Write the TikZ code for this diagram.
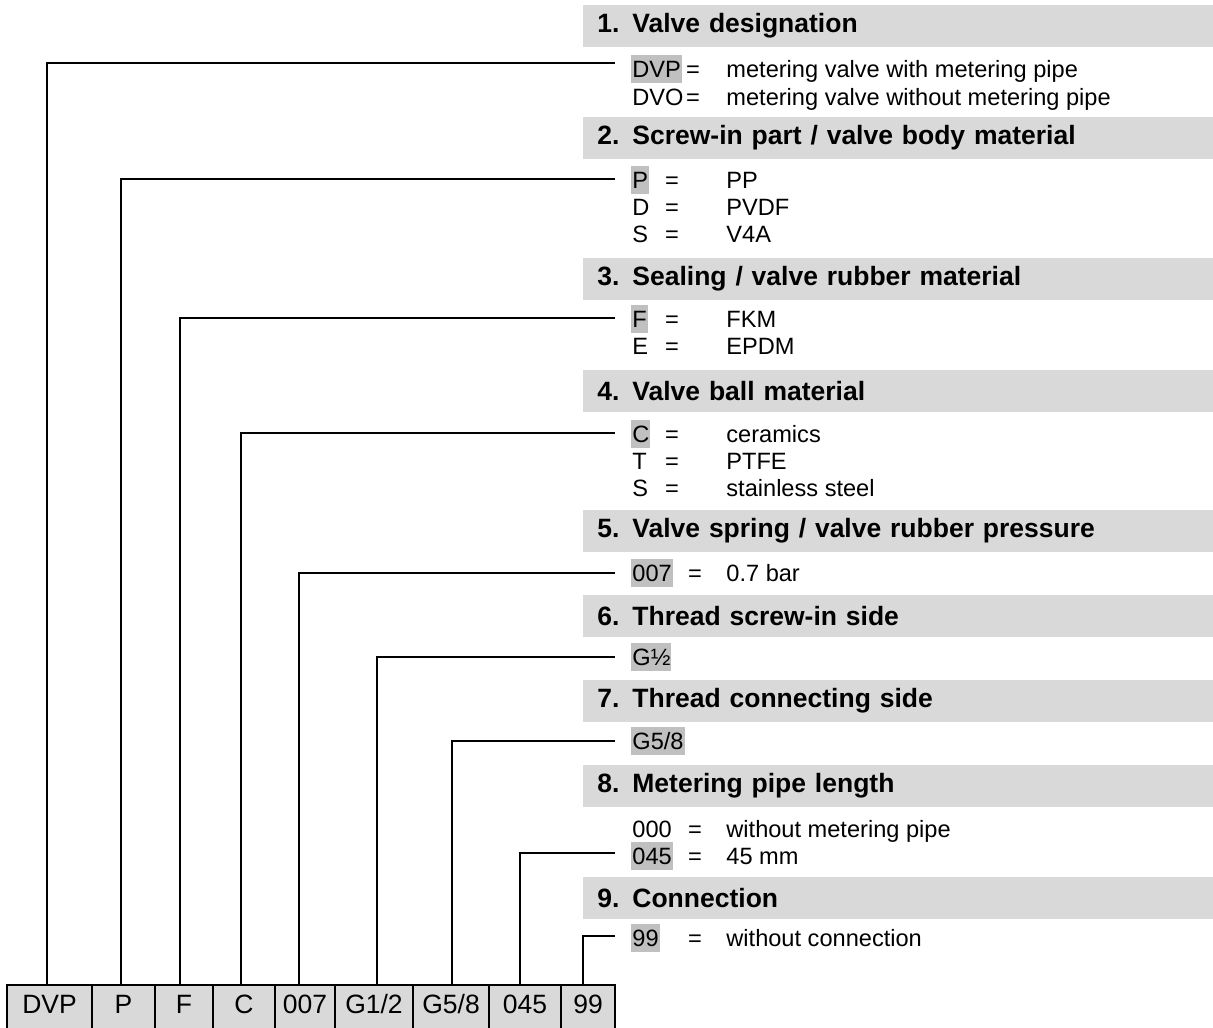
\documentclass[tikz,border=0pt]{standalone}
\usepackage{fontspec}
\setmainfont{Liberation Sans}
\usetikzlibrary{positioning}

\definecolor{bargrey}{HTML}{D9D9D9}
\definecolor{pickgrey}{HTML}{C0C0C0}

\newcommand{\headno}[1]{\makebox[17.5pt][l]{#1}}

\tikzset{
  head/.style={fill=bargrey, anchor=west, inner xsep=7pt, inner ysep=0pt,
    minimum height=21pt, text width=320pt, align=left,
    font=\fontsize{13.25}{15}\selectfont\bfseries},
  code/.style={anchor=west, inner xsep=0.5pt, inner ysep=3pt,
    text height=8.4pt, text depth=0pt, font=\fontsize{11.8}{13}\selectfont},
  picked/.style={code, fill=pickgrey},
  eq/.style={code, anchor=center},
  cell/.style={draw, line width=1pt, fill=bargrey, inner sep=0pt, outer sep=0pt,
    minimum height=22pt, text height=9.5pt, text depth=2.8pt,
    font=\fontsize{13.25}{15}\selectfont},
  lead/.style={line width=0.7pt, shorten >=8pt}
}

\begin{document}
\begin{tikzpicture}[x=0.5pt, y=-0.5pt]
\useasboundingbox (0,0) rectangle (1213,1027);
\clip (0,0) rectangle (1213,1027);

%section bars
\node[head] (h1) at (583,26)  {\headno{1.}Valve designation};
\node[head] (h2) at (583,138) {\headno{2.}Screw-in part / valve body material};
\node[head] (h3) at (583,279) {\headno{3.}Sealing / valve rubber material};
\node[head] (h4) at (583,391) {\headno{4.}Valve ball material};
\node[head] (h5) at (583,531) {\headno{5.}Valve spring / valve rubber pressure};
\node[head] (h6) at (583,616) {\headno{6.}Thread screw-in side};
\node[head] (h7) at (583,701) {\headno{7.}Thread connecting side};
\node[head] (h8) at (583,786) {\headno{8.}Metering pipe length};
\node[head] (h9) at (583,898) {\headno{9.}Connection};

%1 valve designation
\node[picked] (cDVP) at (631,69) {DVP};
\node[eq] at (693,69) {=};
\node[code] at (725,69) {metering valve with metering pipe};
\node[code] (cDVO) at (631,97) {DVO};
\node[eq] at (693,97) {=};
\node[code] at (725,97) {metering valve without metering pipe};

%2 body material
\node[picked] (cP) at (631,180) {P};
\node[eq] at (672,180) {=};
\node[code] at (725,180) {PP};
\node[code] (cD) at (631,207) {D};
\node[eq] at (672,207) {=};
\node[code] at (725,207) {PVDF};
\node[code] (cS) at (631,234) {S};
\node[eq] at (672,234) {=};
\node[code] at (725,234) {V4A};

%3 rubber material
\node[picked] (cF) at (631,319) {F};
\node[eq] at (672,319) {=};
\node[code] at (725,319) {FKM};
\node[code] (cE) at (631,346) {E};
\node[eq] at (672,346) {=};
\node[code] at (725,346) {EPDM};

%4 ball material
\node[picked] (cC) at (631,434) {C};
\node[eq] at (672,434) {=};
\node[code] at (725,434) {ceramics};
\node[code] (cT) at (631,461) {T};
\node[eq] at (672,461) {=};
\node[code] at (725,461) {PTFE};
\node[code] (cSS) at (631,488) {S};
\node[eq] at (672,488) {=};
\node[code] at (725,488) {stainless steel};

%5 pressure
\node[picked] (c007) at (631,573) {007};
\node[eq] at (695,573) {=};
\node[code] at (725,573) {0.7 bar};

%6 and 7 threads
\node[picked] (cGa) at (631,657) {G½};
\node[picked] (cGb) at (631,741) {G5/8};

%8 pipe length
\node[code] (c000) at (631,829) {000};
\node[eq] at (695,829) {=};
\node[code] at (725,829) {without metering pipe};
\node[picked] (c045) at (631,856) {045};
\node[eq] at (695,856) {=};
\node[code] at (725,856) {45 mm};

%9 connection
\node[picked] (c99) at (631,938) {99};
\node[eq] at (695,938) {=};
\node[code] at (725,938) {without connection};

%order code cells
\node[cell, minimum width=42.5pt, anchor=north west] (bDVP) at (7,985) {DVP};
\node[cell, minimum width=31.5pt, right=0pt of bDVP] (bP) {P};
\node[cell, minimum width=29pt, right=0pt of bP] (bF) {F};
\node[cell, minimum width=31pt, right=0pt of bF] (bC) {C};
\node[cell, minimum width=30pt, right=0pt of bC] (b007) {007};
\node[cell, minimum width=39pt, right=0pt of b007] (bGa) {G1/2};
\node[cell, minimum width=38pt, right=0pt of bGa] (bGb) {G5/8};
\node[cell, minimum width=36pt, right=0pt of bGb] (b045) {045};
\node[cell, minimum width=27pt, right=0pt of b045] (b99) {99};

%leads
\draw[lead] ([xshift=-1.25pt]bDVP.north) |- ([yshift=3pt]cDVP.west);
\draw[lead] ([xshift=-1.25pt]bP.north) |- ([yshift=0.5pt]cP.west);
\draw[lead] ([xshift=-2pt]bF.north) |- ([yshift=0.5pt]cF.west);
\draw[lead] ([xshift=-1.5pt]bC.north) |- ([yshift=0.5pt]cC.west);
\draw[lead] ([xshift=-3pt]b007.north) |- ([yshift=0pt]c007.west);
\draw[lead] ([xshift=1.5pt]bGa.north) |- ([yshift=0pt]cGa.west);
\draw[lead] ([xshift=0.5pt]bGb.north) |- ([yshift=0pt]cGb.west);
\draw[lead] ([xshift=-2.5pt]b045.north) |- ([yshift=1.5pt]c045.west);
\draw[lead] ([xshift=-2.5pt]b99.north) |- ([yshift=1pt]c99.west);
\end{tikzpicture}
\end{document}
